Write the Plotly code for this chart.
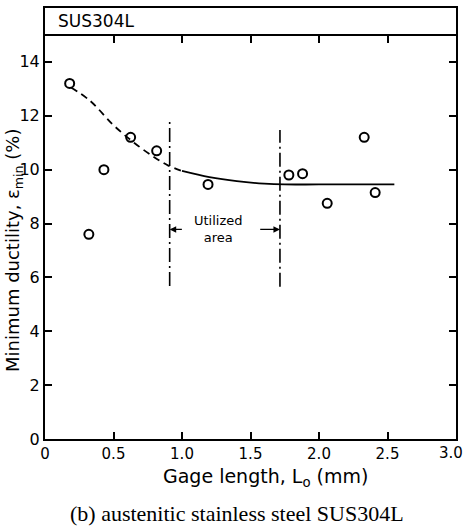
import plotly.graph_objects as go

# Measured points
gage_length = [0.18, 0.32, 0.43, 0.625, 0.815, 1.19, 1.78, 1.88, 2.06, 2.33, 2.41]
min_ductility = [13.2, 7.6, 10.0, 11.2, 10.7, 9.45, 9.8, 9.85, 8.75, 11.2, 9.15]

# Trend curve (dashed part, then solid part)
trend_dash_x = [0.19, 0.33, 0.5, 0.65, 0.8, 0.9, 1.0]
trend_dash_y = [13.05, 12.55, 11.65, 11.0, 10.45, 10.15, 9.95]
trend_solid_x = [1.0, 1.2, 1.4, 1.6, 1.75, 2.0, 2.55]
trend_solid_y = [9.95, 9.72, 9.57, 9.48, 9.45, 9.45, 9.45]

# Utilized area bounds
util_left_x = [0.91, 0.91]
util_left_y = [5.68, 11.85]
util_right_x = [1.715, 1.715]
util_right_y = [5.65, 11.47]
arrow_y = 7.78

x_ticks = [0, 0.5, 1.0, 1.5, 2.0, 2.5, 3.0]
x_tick_labels = ["0", "0.5", "1.0", "1.5", "2.0", "2.5", "3.0"]
y_ticks = [0, 2, 4, 6, 8, 10, 12, 14]

FONT = "DejaVu Sans"

fig = go.Figure()
fig.add_trace(go.Scatter(x=trend_dash_x, y=trend_dash_y, mode="lines",
                         line=dict(color="black", width=1.8, dash="7px,5px", shape="spline"),
                         showlegend=False, hoverinfo="skip"))
fig.add_trace(go.Scatter(x=trend_solid_x, y=trend_solid_y, mode="lines",
                         line=dict(color="black", width=1.8, shape="spline"),
                         showlegend=False, hoverinfo="skip"))
for xs, ys in [(util_left_x, util_left_y), (util_right_x, util_right_y)]:
    fig.add_trace(go.Scatter(x=xs, y=ys, mode="lines",
                             line=dict(color="black", width=1.6, dash="14px,4px,2px,4px"),
                             showlegend=False, hoverinfo="skip"))
fig.add_trace(go.Scatter(x=gage_length, y=min_ductility, mode="markers",
                         marker=dict(symbol="circle-open", size=9, color="black",
                                     line=dict(width=2, color="black")),
                         showlegend=False))
# invisible trace for top axis
fig.add_trace(go.Scatter(x=[0, 3], y=[0, 0], xaxis="x2", mode="markers",
                         marker=dict(opacity=0), showlegend=False, hoverinfo="skip"))

L, R, T, B = 45, 9, 8, 87
W, H = 465, 526
pw, ph = W - L - R, H - T - B
def px(xp):
    return (xp - L) / pw
def py(yp):
    return (H - B - yp) / ph

# arrows
fig.add_annotation(x=util_left_x[0], y=arrow_y, ax=1.01, ay=arrow_y, xref="x", yref="y",
                   axref="x", ayref="y", text="", showarrow=True, arrowhead=2,
                   arrowsize=1, arrowwidth=1.3, arrowcolor="black")
fig.add_annotation(x=util_right_x[0], y=arrow_y, ax=1.56, ay=arrow_y, xref="x", yref="y",
                   axref="x", ayref="y", text="", showarrow=True, arrowhead=2,
                   arrowsize=1, arrowwidth=1.3, arrowcolor="black")
fig.add_annotation(x=1.265, y=arrow_y, xref="x", yref="y", text="Utilized<br>area",
                   showarrow=False, font=dict(family=FONT, size=13, color="black"))

fig.add_annotation(x=0.08, y=15.5, xref="x", yref="y", text="SUS304L", xanchor="left",
                   showarrow=False, font=dict(family=FONT, size=17, color="black"))

# last x tick label placed so it stays inside the page (as in the reference)
fig.add_annotation(x=x_ticks[-1], y=py(453), xref="x", yref="paper", text=x_tick_labels[-1],
                   xanchor="right", yanchor="middle", xshift=9, showarrow=False,
                   font=dict(family=FONT, size=15, color="black"))

# axis titles
fig.add_annotation(x=px(265), y=py(478), xref="paper", yref="paper",
                   xanchor="center", yanchor="middle",
                   text="Gage length, L<sub>o</sub> (mm)",
                   showarrow=False, font=dict(family=FONT, size=19, color="black"))
fig.add_annotation(text="Minimum ductility, ε<sub>min</sub> (%)", textangle=-90,
                   xref="paper", yref="paper", x=px(14), y=py(251),
                   xanchor="center", yanchor="middle", showarrow=False,
                   font=dict(family=FONT, size=18, color="black"))
fig.add_annotation(text="(b) austenitic stainless steel SUS304L",
                   xref="paper", yref="paper", x=px(237), y=py(513),
                   xanchor="center", yanchor="middle", showarrow=False,
                   font=dict(family="Liberation Serif", size=22, color="black"))

axis_tick_text = x_tick_labels[:-1] + [""]

fig.update_layout(
    width=W, height=H, margin=dict(l=L, r=R, t=T, b=B, autoexpand=False),
    plot_bgcolor="white", paper_bgcolor="white",
    xaxis=dict(range=[0, 3], tickvals=x_ticks, ticktext=axis_tick_text, ticks="inside",
               ticklen=7, tickwidth=1.5, tickcolor="black", showline=True, linewidth=2,
               linecolor="black", mirror=True, showgrid=False, zeroline=False,
               automargin=False,
               tickfont=dict(family=FONT, size=15, color="black")),
    xaxis2=dict(range=[0, 3], overlaying="x", side="top", anchor="free", position=15 / 16,
                tickvals=x_ticks, ticks="inside", ticklen=7, tickwidth=1.5, tickcolor="black",
                showticklabels=False, showline=True, linewidth=2, linecolor="black",
                showgrid=False, zeroline=False, automargin=False),
    yaxis=dict(range=[0, 16], tickvals=y_ticks, ticks="inside", ticklen=7, tickwidth=1.5,
               tickcolor="black", showline=True, linewidth=2, linecolor="black",
               mirror="ticks", showgrid=False, zeroline=False, automargin=False,
               tickfont=dict(family=FONT, size=16, color="black")),
)
fig.write_html("out.html")
